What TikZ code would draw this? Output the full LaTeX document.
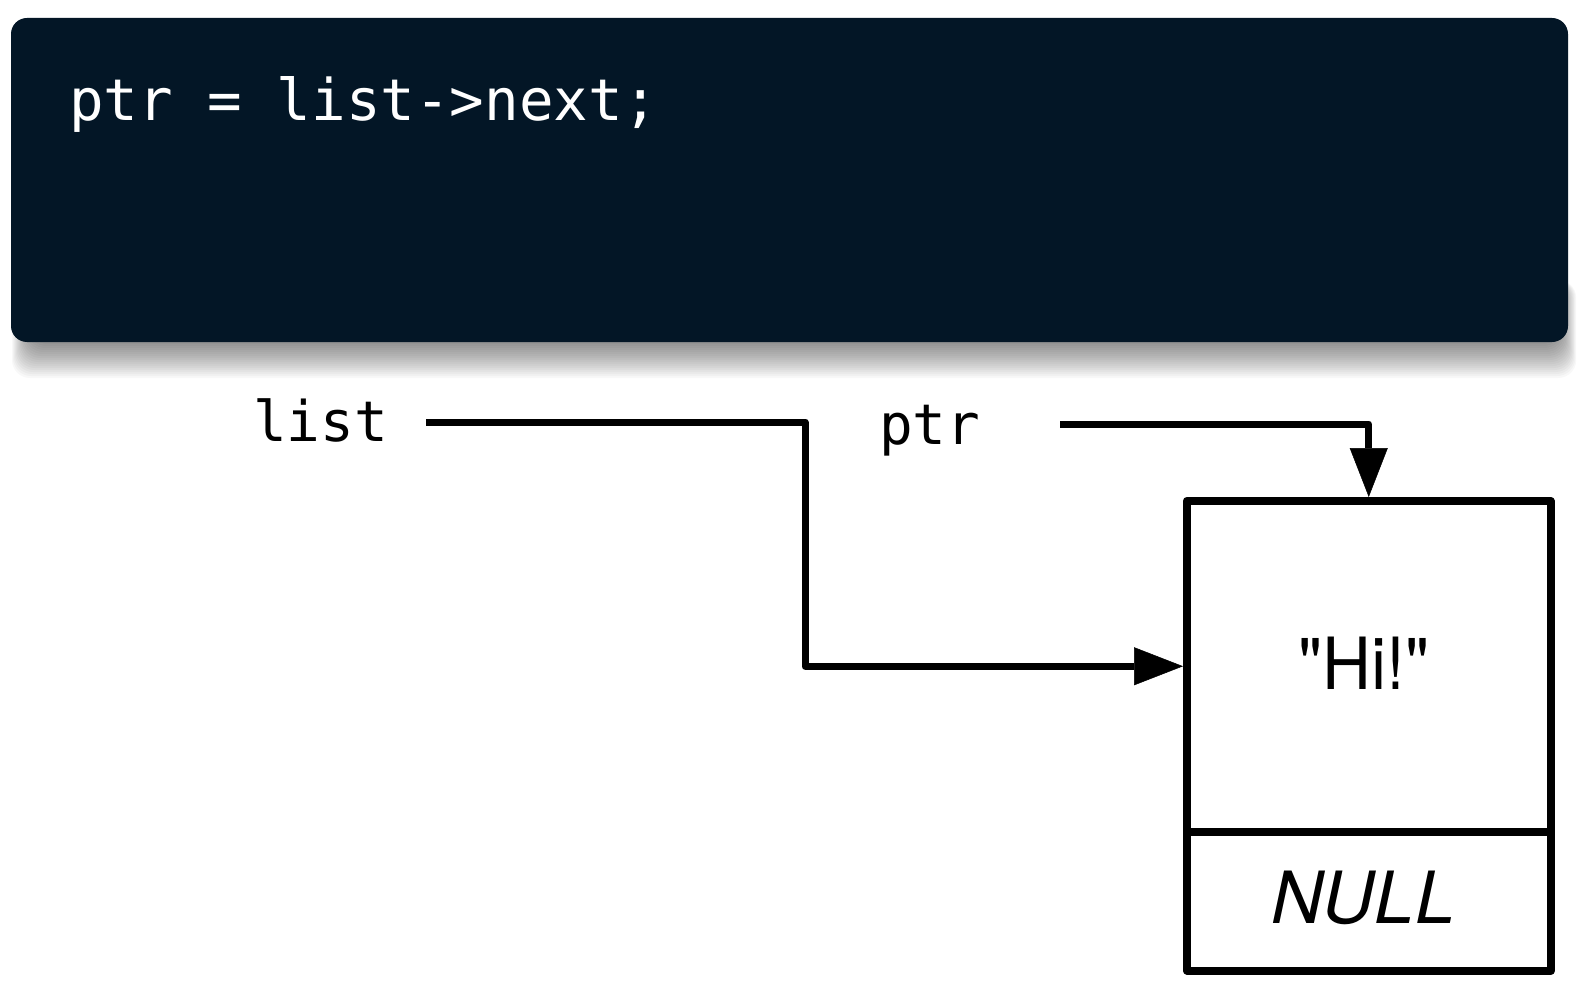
\documentclass[tikz,border=0pt]{standalone}
\usepackage{fontspec}
\newfontfamily\codefont{DejaVu Sans Mono}
\newfontfamily\boxfont{TeX Gyre Heros}
\usetikzlibrary{arrows.meta}
\definecolor{codebg}{RGB}{3,22,38}
\tikzset{
  codebox/.style={fill=codebg, rounded corners=16pt},
  shadowlayer/.style={fill=black, fill opacity=0.026, rounded corners=18pt},
  codetext/.style={text=white, inner sep=0pt, anchor=base west, font=\codefont\fontsize{57.5}{60}\selectfont},
  varlabel/.style={inner sep=0pt, anchor=base west, font=\codefont\fontsize{56}{60}\selectfont},
  cell/.style={draw=black, line width=7.5pt, line join=round, inner sep=0pt, minimum width=364pt},
  celltext/.style={inner sep=0pt, font=\boxfont\fontsize{72}{80}\selectfont},
  ptrline/.style={draw=black, line width=7pt, line join=round,
    -{Triangle[length=49pt,width=38pt,line width=0.5pt,fill=black,color=black]}}
}
\begin{document}
\begin{tikzpicture}[x=1pt,y=-1pt]
\useasboundingbox (0,0) rectangle (1584,992);
\fill[white] (0,0) rectangle (1584,992);
\foreach \i in {1,...,18}{
  \path[shadowlayer] ({30-\i}, 280) rectangle ({1560+0.9*\i}, {342+2*\i});
}
\path[codebox] (11,18) rectangle (1568,342);
\node[codetext] (code) at (69,121) {ptr = list->next;};
\node[varlabel] (list) at (253,441) {list};
\node[varlabel] (ptr) at (879,444) {ptr};
\node[cell, minimum height=331pt, anchor=north west] (hi) at (1183,497) {};
\node[cell, minimum height=139pt, anchor=north west] (nul) at (1183,828) {};
\node[celltext, xscale=0.94] (hitext) at (1364,663) {\vphantom{H}"Hi!"};
\node[celltext] (nultext) at (1363,898) {\itshape NULL};
\coordinate (ls) at (426,422);
\coordinate (lc) at (805,422);
\coordinate (ps) at (1060,424);
\draw[ptrline] (ls) -- (lc) |- (hi.west);
\draw[ptrline] (ps) -| (hi.north);
\end{tikzpicture}
\end{document}
